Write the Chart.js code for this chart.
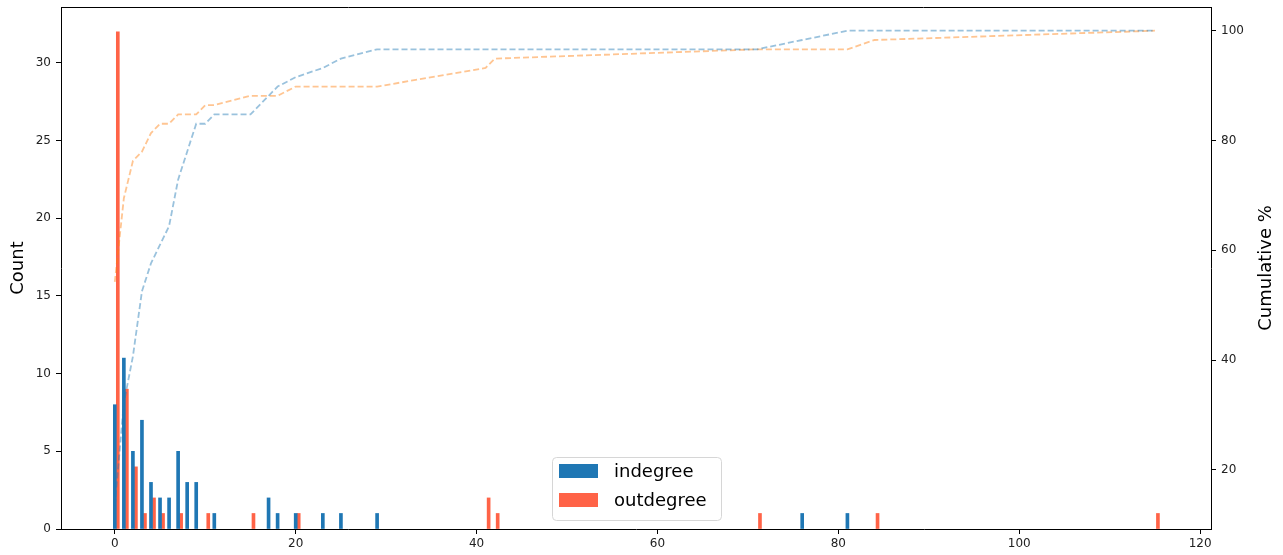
<!DOCTYPE html>
<html>
<head>
<meta charset="utf-8">
<script src="https://cdn.jsdelivr.net/npm/chart.js@4/dist/chart.umd.min.js"></script>
<style>
  html, body { margin: 0; padding: 0; background: #fff; }
  #wrap { position: relative; width: 1283px; height: 555px; }
</style>
</head>
<body>
<div id="wrap"><canvas id="c" width="1283" height="555"></canvas></div>
<script>
// Degree values present in the network (union of in- and out-degrees)
const degrees = [0, 1, 2, 3, 4, 5, 6, 7, 8, 9, 10, 11, 15, 17, 18, 20, 23, 25, 29, 41, 42, 71, 76, 81, 84, 115];

// Number of nodes having each degree
const indegreeCounts  = [8, 11, 5, 7, 3, 2, 2, 5, 3, 3, 0, 1, 0, 2, 1, 1, 1, 1, 1, 0, 0, 0, 1, 1, 0, 0];
const outdegreeCounts = [32, 9, 4, 1, 2, 1, 0, 1, 0, 0, 1, 0, 1, 0, 0, 1, 0, 0, 0, 2, 1, 1, 0, 0, 1, 1];

// Cumulative share of nodes (%) up to each degree
const indegreeCumPct  = [13.56, 32.20, 40.68, 52.54, 57.63, 61.02, 64.41, 72.88, 77.97, 83.05, 83.05, 84.75, 84.75,
                         88.14, 89.83, 91.53, 93.22, 94.92, 96.61, 96.61, 96.61, 96.61, 98.31, 100, 100, 100];
const outdegreeCumPct = [54.24, 69.49, 76.27, 77.97, 81.36, 83.05, 83.05, 84.75, 84.75, 84.75, 86.44, 86.44, 88.14,
                         88.14, 88.14, 89.83, 89.83, 89.83, 89.83, 93.22, 94.92, 96.61, 96.61, 96.61, 98.31, 100];

// Tick labels
const xTicks = [0, 20, 40, 60, 80, 100, 120];
const countTicks = [0, 5, 10, 15, 20, 25, 30];
const pctTicks = [20, 40, 60, 80, 100];

const FONT = "'DejaVu Sans', sans-serif";
const BLUE = '#1f77b4';
const RED = '#ff6347';

const barPoints = (counts) => degrees
  .map((d, i) => ({ x: d, y: counts[i] }))
  .filter(p => p.y > 0);
const linePoints = (vals) => degrees.map((d, i) => ({ x: d, y: vals[i] }));

const fixedTicks = (list) => (scale) => { scale.ticks = list.map(v => ({ value: v })); };
const fitBox = (w, h) => (s) => {
  if (w !== null) s.width = w;
  if (h !== null) s.height = h;
  s.paddingTop = 0; s.paddingBottom = 0; s.paddingLeft = 0; s.paddingRight = 0;
};

// Histogram-style placement: each bar pair sits slightly right of its degree value
const barNudge = {
  id: 'barNudge',
  afterDatasetsUpdate(chart) {
    chart.data.datasets.forEach((d, i) => {
      if (d.type !== 'bar') return;
      chart.getDatasetMeta(i).data.forEach(el => { el.x += 1.5; });
    });
  }
};

// Frame on the top edge of the plot area, axis titles and the legend box
const decorations = {
  id: 'decorations',
  afterDraw(chart) {
    const { ctx, chartArea: a } = chart;
    ctx.save();
    ctx.strokeStyle = '#000';
    ctx.lineWidth = 1;
    ctx.beginPath();
    ctx.moveTo(a.left, a.top + 0.5);
    ctx.lineTo(a.right, a.top + 0.5);
    ctx.stroke();

    ctx.fillStyle = '#000';
    ctx.font = `18px ${FONT}`;
    ctx.textAlign = 'center';
    ctx.textBaseline = 'middle';
    const cy = (a.top + a.bottom) / 2;
    ctx.save();
    ctx.translate(18, cy);
    ctx.rotate(-Math.PI / 2);
    ctx.fillText('Count', 0, 0);
    ctx.restore();
    ctx.save();
    ctx.translate(1266, cy);
    ctx.rotate(-Math.PI / 2);
    ctx.fillText('Cumulative %', 0, 0);
    ctx.restore();

    // legend
    const lx = 552, ly = 457, lw = 169, lh = 63;
    ctx.beginPath();
    ctx.roundRect(lx + 0.5, ly + 0.5, lw, lh, 4);
    ctx.fillStyle = 'rgba(255,255,255,0.8)';
    ctx.fill();
    ctx.strokeStyle = '#d6d6d6';
    ctx.stroke();
    const entries = chart.data.datasets.filter(d => d.type === 'bar');
    ctx.font = `18px ${FONT}`;
    ctx.textAlign = 'left';
    entries.forEach((d, i) => {
      const y = 471 + i * 29;
      ctx.fillStyle = d.backgroundColor;
      ctx.fillRect(559, y - 7, 39, 14);
      ctx.fillStyle = '#000';
      ctx.fillText(d.label, 614, y + 1);
    });
    ctx.restore();
  }
};

const tickGrid = { display: true, drawOnChartArea: false, drawTicks: true, tickLength: 5, color: '#000', offset: false };
const spine = { display: true, color: '#000', width: 1 };
const tickFont = { family: FONT, size: 12 };

new Chart(document.getElementById('c'), {
  data: {
    datasets: [
      { type: 'bar', label: 'indegree', data: barPoints(indegreeCounts), backgroundColor: BLUE,
        borderWidth: 0, barThickness: 3, yAxisID: 'y', order: 2 },
      { type: 'bar', label: 'outdegree', data: barPoints(outdegreeCounts), backgroundColor: RED,
        borderWidth: 0, barThickness: 3, yAxisID: 'y', order: 2 },
      { type: 'line', label: 'indegree cumulative', data: linePoints(indegreeCumPct),
        borderColor: 'rgba(31,119,180,0.45)', borderWidth: 1.8, borderDash: [6, 3],
        pointRadius: 0, fill: false, tension: 0, yAxisID: 'y2', order: 1 },
      { type: 'line', label: 'outdegree cumulative', data: linePoints(outdegreeCumPct),
        borderColor: 'rgba(255,127,14,0.45)', borderWidth: 1.8, borderDash: [6, 3],
        pointRadius: 0, fill: false, tension: 0, yAxisID: 'y2', order: 1 }
    ]
  },
  options: {
    responsive: false,
    animation: false,
    layout: { padding: { top: 7, left: 0, right: 0, bottom: 0 } },
    plugins: { legend: { display: false }, tooltip: { enabled: false } },
    scales: {
      x: {
        type: 'linear', position: 'bottom', min: -5.95, max: 121.2, offset: false,
        afterBuildTicks: fixedTicks(xTicks),
        afterFit: fitBox(null, 26),
        grid: tickGrid, border: spine,
        ticks: { color: '#222', font: tickFont, padding: 3, maxRotation: 0 }
      },
      y: {
        type: 'linear', position: 'left', min: 0, max: 33.6,
        afterBuildTicks: fixedTicks(countTicks),
        afterFit: fitBox(61, null),
        grid: tickGrid, border: spine,
        ticks: { color: '#222', font: tickFont, padding: 5 }
      },
      y2: {
        type: 'linear', position: 'right', min: 9.24, max: 104.32,
        afterBuildTicks: fixedTicks(pctTicks),
        afterFit: fitBox(72, null),
        grid: tickGrid, border: spine,
        ticks: { color: '#222', font: tickFont, padding: 5 }
      }
    }
  },
  plugins: [barNudge, decorations]
});
</script>
</body>
</html>
